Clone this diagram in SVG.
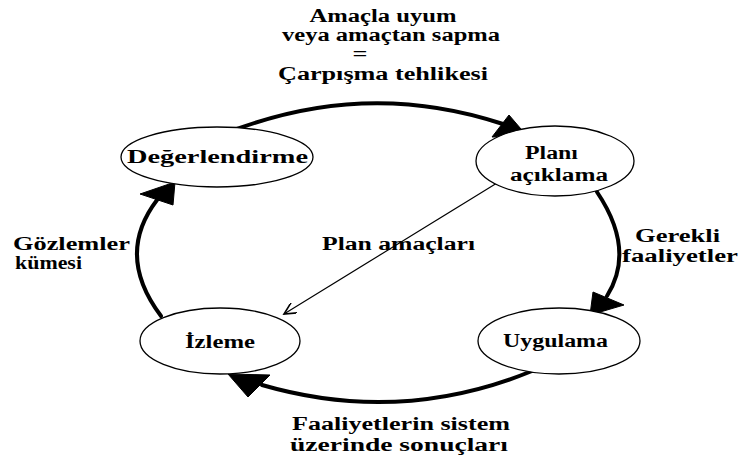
<svg xmlns="http://www.w3.org/2000/svg" width="740" height="457" viewBox="0 0 740 457">
  <defs>
    <style>
      text { font-family: "Liberation Serif", "DejaVu Serif", "Times New Roman", serif; font-weight: bold; font-size: 18px; fill: #000; }
      .node ellipse { fill: #fff; stroke: #000; stroke-width: 1.3; }
      .cycle { fill: none; stroke: #000; stroke-width: 4; stroke-linecap: round; }
      .head { fill: #000; stroke: #000; stroke-width: 1; stroke-linejoin: round; }
      .thin { fill: none; stroke: #000; stroke-width: 1.2; }
    </style>
    <marker id="open-arrow" markerWidth="14" markerHeight="12" refX="12" refY="6" orient="auto" markerUnits="userSpaceOnUse">
      <path d="M0,0 L12,6 L0,12" fill="none" stroke="#000" stroke-width="1.6"/>
    </marker>
  </defs>

  <rect width="740" height="457" fill="#fff"/>

  <!-- header label -->
  <g id="title">
    <text x="383" y="22" text-anchor="middle" textLength="147" lengthAdjust="spacingAndGlyphs">Amaçla uyum</text>
    <text x="391" y="41" text-anchor="middle" textLength="218" lengthAdjust="spacingAndGlyphs">veya amaçtan sapma</text>
    <text x="360" y="60" text-anchor="middle" font-size="13" textLength="15" lengthAdjust="spacingAndGlyphs">=</text>
    <text x="383" y="80" text-anchor="middle" textLength="210" lengthAdjust="spacingAndGlyphs">Çarpışma tehlikesi</text>
  </g>

  <!-- connectors -->
  <g id="connectors">
    <path class="cycle" d="M237 129 Q370 80 503 124"/>
    <polygon class="head" points="509,115 492,137 527,136"/>

    <path class="cycle" d="M597 192 Q636 250 607 296"/>
    <polygon class="head" points="593,292 624,305 590,315"/>

    <path class="cycle" d="M532 371 Q400 425 262 385"/>
    <polygon class="head" points="228,374 270,375 248,397"/>

    <path class="cycle" d="M161 316 Q115 255 157 200"/>
    <polygon class="head" points="140,194 175,182 173,205"/>

    <line class="thin" x1="497" y1="183" x2="284" y2="314" marker-end="url(#open-arrow)"/>
  </g>

  <!-- edge labels -->
  <g id="labels">
    <text x="13" y="250" textLength="117" lengthAdjust="spacingAndGlyphs">Gözlemler</text>
    <text x="15" y="269" textLength="67" lengthAdjust="spacingAndGlyphs">kümesi</text>
    <text x="635" y="242" textLength="85" lengthAdjust="spacingAndGlyphs">Gerekli</text>
    <text x="622" y="262" textLength="116" lengthAdjust="spacingAndGlyphs">faaliyetler</text>
    <text x="322" y="250" textLength="153" lengthAdjust="spacingAndGlyphs">Plan amaçları</text>
    <text x="292" y="430" textLength="218" lengthAdjust="spacingAndGlyphs">Faaliyetlerin sistem</text>
    <text x="290" y="451" textLength="218" lengthAdjust="spacingAndGlyphs">üzerinde sonuçları</text>
  </g>

  <!-- nodes -->
  <g id="node-degerlendirme" class="node">
    <ellipse cx="217" cy="157" rx="96" ry="30"/>
    <text x="127" y="163" textLength="181" lengthAdjust="spacingAndGlyphs">Değerlendirme</text>
  </g>
  <g id="node-plan" class="node">
    <ellipse cx="555" cy="161" rx="79" ry="35"/>
    <text x="525" y="159" textLength="53" lengthAdjust="spacingAndGlyphs">Planı</text>
    <text x="510" y="181" textLength="98" lengthAdjust="spacingAndGlyphs">açıklama</text>
  </g>
  <g id="node-izleme" class="node">
    <ellipse cx="220" cy="341" rx="80" ry="33"/>
    <text x="185" y="348" textLength="70" lengthAdjust="spacingAndGlyphs">İzleme</text>
  </g>
  <g id="node-uygulama" class="node">
    <ellipse cx="559" cy="341" rx="81" ry="33"/>
    <text x="503" y="347" textLength="105" lengthAdjust="spacingAndGlyphs">Uygulama</text>
  </g>
</svg>
